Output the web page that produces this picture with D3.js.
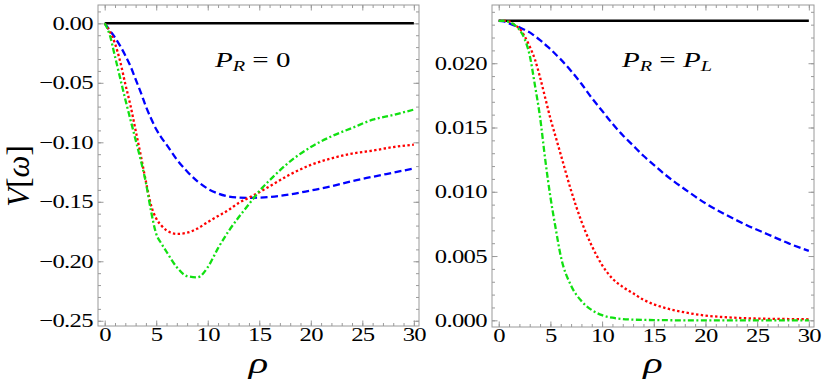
<!DOCTYPE html>
<html>
<head>
<meta charset="utf-8">
<script src="https://cdn.jsdelivr.net/npm/d3@7"></script>
<style>
body { margin: 0; background: #fff; }
svg { display: block; }
</style>
</head>
<body>
<svg id="chart" width="823" height="384"></svg>
<script>
// shared rho grid (x values) for every curve
var rho = [0, 0.5, 1, 1.5, 2, 2.5, 3, 3.5, 4, 4.5, 5, 5.5, 6, 7, 8, 9, 10, 11, 12, 13, 14, 15, 16, 18, 20, 22, 24, 26, 28, 30];

// left panel, P_R = 0
var leftBlack = 0;
var leftBlue = [0, -0.006, -0.012, -0.019, -0.027, -0.036, -0.047, -0.058, -0.070, -0.080, -0.089, -0.096, -0.102,
    -0.1145, -0.1245, -0.1328, -0.139, -0.143, -0.1455, -0.1465, -0.1467, -0.1465, -0.146,
    -0.1438, -0.1405, -0.137, -0.1326, -0.129, -0.1255, -0.122];
var leftRed = [0, -0.007, -0.017, -0.032, -0.051, -0.069, -0.090, -0.111, -0.133, -0.153, -0.164, -0.170, -0.174,
    -0.177, -0.176, -0.1725, -0.167, -0.162, -0.157, -0.151, -0.1465, -0.142, -0.137,
    -0.127, -0.119, -0.1135, -0.1095, -0.107, -0.104, -0.102];
var leftGreen = [0, -0.010, -0.028, -0.046, -0.064, -0.081, -0.098, -0.115, -0.134, -0.158, -0.177, -0.185, -0.192,
    -0.205, -0.2125, -0.2135, -0.205, -0.189, -0.175, -0.163, -0.152, -0.141, -0.132,
    -0.116, -0.104, -0.095, -0.088, -0.081, -0.077, -0.0725];

// right panel, P_R = P_L
var rightBlack = 0.0233;
var rightBlue = [0.0233, 0.02325, 0.0231, 0.02295, 0.0228, 0.0226, 0.0224, 0.0221, 0.0218, 0.02145, 0.0211, 0.0207, 0.0203,
    0.0194, 0.0184, 0.0173, 0.0163, 0.0153, 0.0144, 0.0136, 0.0128, 0.0121, 0.0114,
    0.0102, 0.0091, 0.0082, 0.0074, 0.0067, 0.0060, 0.0054];
var rightRed = [0.0233, 0.0233, 0.02325, 0.0230, 0.0227, 0.0221, 0.0213, 0.0203, 0.0189, 0.0173, 0.0157, 0.0143, 0.0129,
    0.0101, 0.0077, 0.0058, 0.0043, 0.00325, 0.0026, 0.0021, 0.0016, 0.00125, 0.00098,
    0.00062, 0.00037, 0.00024, 0.00016, 0.00012, 0.0001, 0.00008];
var rightGreen = [0.0233, 0.0233, 0.0232, 0.0230, 0.0226, 0.0219, 0.0206, 0.0183, 0.0158, 0.0125, 0.0096, 0.0072, 0.0050,
    0.0027, 0.0015, 0.0008, 0.0004, 0.0002, 0.0001, 0.00005, 0.00003, 0.00002, 0.00001,
    0, 0, 0, 0, 0, 0, 0];

// ticks
var xMajor = [0, 5, 10, 15, 20, 25, 30];
var xMinor = d3.range(0, 31);
var leftYMajor = [-0.25, -0.20, -0.15, -0.10, -0.05, 0];
var leftYMinor = d3.range(-25, 2).map(function(d){ return d / 100; });
var rightYMajor = [0, 0.005, 0.010, 0.015, 0.020];
var rightYMinor = d3.range(0, 25).map(function(d){ return d / 1000; });

var serif = "'Liberation Serif', 'Times New Roman', serif";
var svg = d3.select("#chart");
var frameColor = "#9a9a9a";
var sx = 1.3;

var styles = [
    {color: "#0000ff", dash: "7,3.5"},
    {color: "#ff0000", dash: "2.4,2.4"},
    {color: "#11e011", dash: "6,2.5,2,2.5"}
];

function drawPanel(p){
    var x = d3.scaleLinear().domain([-0.65, 30.5]).range([p.left, p.right]);
    var y = d3.scaleLinear().domain(p.yDomain).range([p.bottom, p.top]);
    var g = svg.append("g");

    g.append("rect")
        .attr("x", p.left).attr("y", p.top)
        .attr("width", p.right - p.left).attr("height", p.bottom - p.top)
        .attr("fill", "none").attr("stroke", frameColor).attr("stroke-width", 1);

    function frameAxis(axis, transform, values, size, labels){
        var a = g.append("g")
            .attr("transform", transform)
            .call(axis.tickValues(values).tickSize(-size).tickPadding(labels ? 2 : 0)
                .tickFormat(labels ? labels : ""));
        a.select(".domain").remove();
        a.selectAll(".tick line").attr("stroke", frameColor);
        a.selectAll("text").attr("font-family", serif).attr("fill", "#000");
        return a;
    }

    // bottom and top
    var bx = frameAxis(d3.axisBottom(x), "translate(0," + p.bottom + ")", xMajor, 5.5, d3.format("d"));
    bx.selectAll("text").attr("font-size", 19).attr("letter-spacing", -0.5)
        .attr("transform", "scale(" + sx + ",1)").attr("x", 0);
    frameAxis(d3.axisBottom(x), "translate(0," + p.bottom + ")", xMinor, 3, null);
    frameAxis(d3.axisTop(x), "translate(0," + p.top + ")", xMajor, 5.5, null);
    frameAxis(d3.axisTop(x), "translate(0," + p.top + ")", xMinor, 3, null);

    // left and right
    var ly = frameAxis(d3.axisLeft(y), "translate(" + p.left + ",0)", p.yMajor, 5.5, d3.format(p.fmt));
    ly.selectAll("text").attr("font-size", 19).attr("letter-spacing", -0.5)
        .attr("x", 0).attr("transform", "translate(-5,0) scale(" + sx + ",1)");
    frameAxis(d3.axisLeft(y), "translate(" + p.left + ",0)", p.yMinor, 3, null);
    frameAxis(d3.axisRight(y), "translate(" + p.right + ",0)", p.yMajor, 5.5, null);
    frameAxis(d3.axisRight(y), "translate(" + p.right + ",0)", p.yMinor, 3, null);

    // curves
    var line = d3.line()
        .x(function(d){ return x(d[0]); })
        .y(function(d){ return y(d[1]); })
        .curve(d3.curveMonotoneX);

    g.append("path")
        .datum([[0, p.black], [30, p.black]])
        .attr("d", line)
        .attr("fill", "none").attr("stroke", "#000").attr("stroke-width", 2.5);

    p.series.forEach(function(vals, i){
        g.append("path")
            .datum(rho.map(function(r, k){ return [r, vals[k]]; }))
            .attr("d", line)
            .attr("fill", "none")
            .attr("stroke", styles[i].color)
            .attr("stroke-width", 2.3)
            .attr("stroke-dasharray", styles[i].dash);
    });

    // x label
    g.append("text")
        .attr("transform", "translate(" + (p.left + p.right) / 2 + ",373) scale(1.35,1)")
        .attr("text-anchor", "middle")
        .attr("font-family", serif)
        .attr("font-size", 30)
        .attr("font-style", "italic")
        .text("ρ");

    // annotation
    var t = g.append("text")
        .attr("transform", "translate(" + p.noteX + ",67) scale(1.45,1)")
        .attr("font-family", serif)
        .attr("font-size", 20);
    t.append("tspan").attr("font-style", "italic").text("P");
    t.append("tspan").attr("font-style", "italic").attr("font-size", 14).attr("dy", 4).text("R");
    t.append("tspan").attr("dy", -4).text(" = ");
    if(p.noteSub){
        t.append("tspan").attr("font-style", "italic").text("P");
        t.append("tspan").attr("font-style", "italic").attr("font-size", 14).attr("dy", 4).text(p.noteSub);
    } else {
        t.append("tspan").text("0");
    }
}

drawPanel({
    left: 98, right: 419, top: 5, bottom: 326,
    yDomain: [-0.2544, 0.0154], yMajor: leftYMajor, yMinor: leftYMinor, fmt: ".2f",
    black: leftBlack, series: [leftBlue, leftRed, leftGreen],
    noteX: 215, noteSub: null
});

drawPanel({
    left: 492, right: 814, top: 5, bottom: 327,
    yDomain: [-0.00052, 0.02453], yMajor: rightYMajor, yMinor: rightYMinor, fmt: ".3f",
    black: rightBlack, series: [rightBlue, rightRed, rightGreen],
    noteX: 622, noteSub: "L"
});

// y label
var yl = svg.append("text")
    .attr("transform", "translate(29,176) rotate(-90)")
    .attr("text-anchor", "middle")
    .attr("font-family", serif)
    .attr("font-size", 31);
yl.append("tspan").attr("font-style", "italic").text("V");
yl.append("tspan").text("[");
yl.append("tspan").attr("font-style", "italic").text("ω");
yl.append("tspan").text("]");
</script>
</body>
</html>
